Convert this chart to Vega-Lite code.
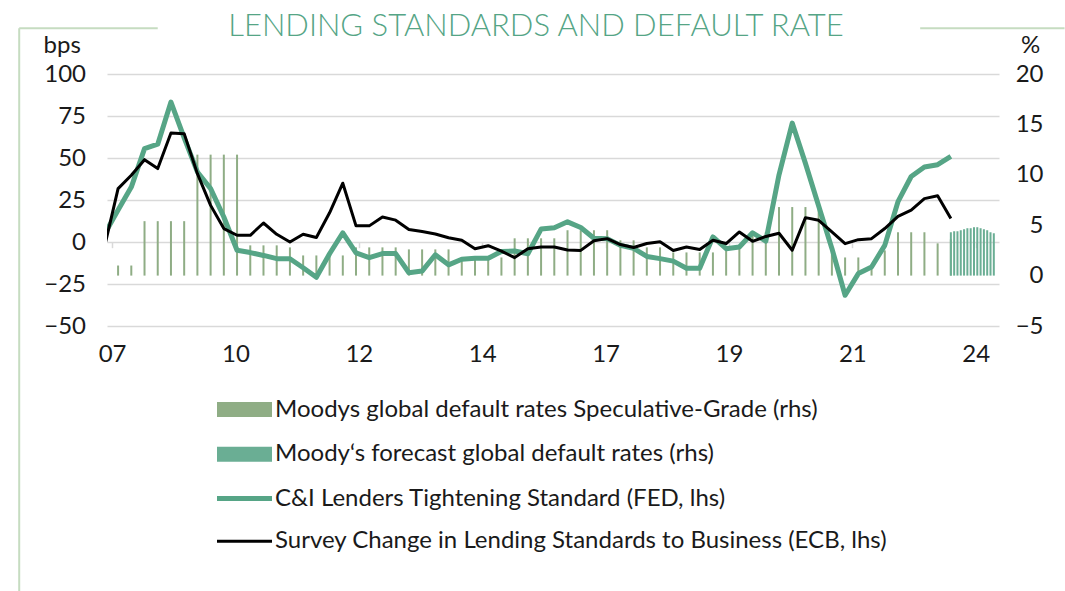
{
  "$schema": "https://vega.github.io/schema/vega-lite/v6.json",
  "width": 892,
  "height": 252,
  "autosize": {"type": "none"},
  "padding": {"left": 107, "top": 74, "right": 66, "bottom": 265},
  "background": "white",
  "config": {"font": "Lato", "view": {"stroke": null}},
  "title": {"text": "LENDING STANDARDS AND DEFAULT RATE", "font": "Lato", "fontWeight": 300, "fontSize": 31, "color": "#55a586", "anchor": "middle", "frame": "group", "offset": -40, "dx": -17, "baseline": "alphabetic"},
  "datasets": {
    "lines": [
      {"t":2007.25,"fed":5,"ecb":-2},
      {"t":2007.5,"fed":19,"ecb":31.8},
      {"t":2007.75,"fed":32.7,"ecb":39.7},
      {"t":2008,"fed":55.6,"ecb":49},
      {"t":2008.25,"fed":58.2,"ecb":43.7},
      {"t":2008.5,"fed":83.3,"ecb":64.9},
      {"t":2008.75,"fed":62,"ecb":64.5},
      {"t":2009,"fed":41.7,"ecb":40.7},
      {"t":2009.25,"fed":31.8,"ecb":21.8},
      {"t":2009.5,"fed":14.9,"ecb":8},
      {"t":2009.75,"fed":-4.9,"ecb":4},
      {"t":2010,"fed":-6.3,"ecb":4},
      {"t":2010.25,"fed":-8,"ecb":11.3},
      {"t":2010.5,"fed":-9.9,"ecb":4.6},
      {"t":2010.75,"fed":-10,"ecb":0},
      {"t":2011,"fed":-15.3,"ecb":4.6},
      {"t":2011.25,"fed":-21,"ecb":2.7},
      {"t":2011.5,"fed":-7,"ecb":17.4},
      {"t":2011.75,"fed":5.5,"ecb":35},
      {"t":2012,"fed":-6.5,"ecb":9.6},
      {"t":2012.25,"fed":-9.3,"ecb":9.6},
      {"t":2012.5,"fed":-6.9,"ecb":14.9},
      {"t":2012.75,"fed":-6.9,"ecb":13},
      {"t":2013,"fed":-18.3,"ecb":7.5},
      {"t":2013.25,"fed":-17.3,"ecb":6.2},
      {"t":2013.5,"fed":-7.6,"ecb":4.8},
      {"t":2013.75,"fed":-13.6,"ecb":2.5},
      {"t":2014,"fed":-10.3,"ecb":1},
      {"t":2014.25,"fed":-9.7,"ecb":-4},
      {"t":2014.5,"fed":-9.7,"ecb":-2.2},
      {"t":2014.75,"fed":-5.6,"ecb":-5.4},
      {"t":2015,"fed":-5.4,"ecb":-9.3},
      {"t":2015.25,"fed":-7,"ecb":-4},
      {"t":2015.5,"fed":7.7,"ecb":-3},
      {"t":2015.75,"fed":8.5,"ecb":-3},
      {"t":2016,"fed":12,"ecb":-4.8},
      {"t":2016.25,"fed":8.6,"ecb":-5},
      {"t":2016.5,"fed":2.2,"ecb":0.7},
      {"t":2016.75,"fed":2,"ecb":2},
      {"t":2017,"fed":-2,"ecb":-1.5},
      {"t":2017.25,"fed":-3.8,"ecb":-3.3},
      {"t":2017.5,"fed":-8.6,"ecb":-0.9},
      {"t":2017.75,"fed":-9.9,"ecb":0.1},
      {"t":2018,"fed":-11.4,"ecb":-5.1},
      {"t":2018.25,"fed":-15.6,"ecb":-3},
      {"t":2018.5,"fed":-15.6,"ecb":-4.5},
      {"t":2018.75,"fed":3,"ecb":1},
      {"t":2019,"fed":-4,"ecb":-0.9},
      {"t":2019.25,"fed":-3,"ecb":6},
      {"t":2019.5,"fed":5.5,"ecb":0.4},
      {"t":2019.75,"fed":0.5,"ecb":3.3},
      {"t":2020,"fed":40,"ecb":5.2},
      {"t":2020.25,"fed":70.8,"ecb":-4.9},
      {"t":2020.5,"fed":46.8,"ecb":14.5},
      {"t":2020.75,"fed":21.4,"ecb":12.9},
      {"t":2021,"fed":-3.8,"ecb":6},
      {"t":2021.25,"fed":-31.7,"ecb":-1},
      {"t":2021.5,"fed":-18.8,"ecb":1.4},
      {"t":2021.75,"fed":-14.9,"ecb":2},
      {"t":2022,"fed":-2,"ecb":8},
      {"t":2022.25,"fed":24,"ecb":15.3},
      {"t":2022.5,"fed":39,"ecb":19},
      {"t":2022.75,"fed":44.6,"ecb":25.8},
      {"t":2023,"fed":46,"ecb":27.5},
      {"t":2023.25,"fed":51,"ecb":14}
    ],
    "bars": [
      {"t":2007.5,"r":1,"k":"hist"},{"t":2007.75,"r":1,"k":"hist"},
      {"t":2008,"r":5.4,"k":"hist"},{"t":2008.25,"r":5.4,"k":"hist"},{"t":2008.5,"r":5.4,"k":"hist"},{"t":2008.75,"r":5.4,"k":"hist"},
      {"t":2009,"r":12,"k":"hist"},{"t":2009.25,"r":12,"k":"hist"},{"t":2009.5,"r":12,"k":"hist"},{"t":2009.75,"r":12,"k":"hist"},
      {"t":2010,"r":3,"k":"hist"},{"t":2010.25,"r":3,"k":"hist"},{"t":2010.5,"r":3,"k":"hist"},{"t":2010.75,"r":2.8,"k":"hist"},
      {"t":2011,"r":2,"k":"hist"},{"t":2011.25,"r":2,"k":"hist"},{"t":2011.5,"r":2,"k":"hist"},{"t":2011.75,"r":2,"k":"hist"},
      {"t":2012,"r":2.8,"k":"hist"},{"t":2012.25,"r":2.8,"k":"hist"},{"t":2012.5,"r":2.8,"k":"hist"},{"t":2012.75,"r":2.8,"k":"hist"},
      {"t":2013,"r":2.6,"k":"hist"},{"t":2013.25,"r":2.6,"k":"hist"},{"t":2013.5,"r":2.6,"k":"hist"},{"t":2013.75,"r":2.6,"k":"hist"},
      {"t":2014,"r":1.8,"k":"hist"},{"t":2014.25,"r":1.8,"k":"hist"},{"t":2014.5,"r":1.8,"k":"hist"},{"t":2014.75,"r":1.8,"k":"hist"},
      {"t":2015,"r":3.7,"k":"hist"},{"t":2015.25,"r":3.7,"k":"hist"},{"t":2015.5,"r":3.7,"k":"hist"},{"t":2015.75,"r":3.7,"k":"hist"},
      {"t":2016,"r":4.5,"k":"hist"},{"t":2016.25,"r":4.5,"k":"hist"},{"t":2016.5,"r":4.5,"k":"hist"},{"t":2016.75,"r":4.5,"k":"hist"},
      {"t":2017,"r":3.5,"k":"hist"},{"t":2017.25,"r":3.5,"k":"hist"},{"t":2017.5,"r":2.8,"k":"hist"},{"t":2017.75,"r":2.8,"k":"hist"},
      {"t":2018,"r":2.3,"k":"hist"},{"t":2018.25,"r":2.3,"k":"hist"},{"t":2018.5,"r":2.3,"k":"hist"},{"t":2018.75,"r":2.3,"k":"hist"},
      {"t":2019,"r":2.8,"k":"hist"},{"t":2019.25,"r":2.8,"k":"hist"},{"t":2019.5,"r":4.3,"k":"hist"},{"t":2019.75,"r":4.3,"k":"hist"},
      {"t":2020,"r":6.8,"k":"hist"},{"t":2020.25,"r":6.8,"k":"hist"},{"t":2020.5,"r":6.8,"k":"hist"},{"t":2020.75,"r":6.8,"k":"hist"},
      {"t":2021,"r":2.5,"k":"hist"},{"t":2021.25,"r":1.8,"k":"hist"},{"t":2021.5,"r":1.8,"k":"hist"},{"t":2021.75,"r":0.8,"k":"hist"},
      {"t":2022,"r":2.5,"k":"hist"},{"t":2022.25,"r":4.3,"k":"hist"},{"t":2022.5,"r":4.3,"k":"hist"},{"t":2022.75,"r":4.3,"k":"hist"},
      {"t":2023,"r":3.2,"k":"hist"},{"t":2023.25,"r":3.6,"k":"hist"},
      {"t":2023.25,"r":4.3,"k":"fcst"},{"t":2023.3125,"r":4.4,"k":"fcst"},{"t":2023.375,"r":4.4,"k":"fcst"},{"t":2023.4375,"r":4.5,"k":"fcst"},
      {"t":2023.5,"r":4.6,"k":"fcst"},{"t":2023.5625,"r":4.7,"k":"fcst"},{"t":2023.625,"r":4.7,"k":"fcst"},{"t":2023.6875,"r":4.8,"k":"fcst"},
      {"t":2023.75,"r":4.8,"k":"fcst"},{"t":2023.8125,"r":4.7,"k":"fcst"},{"t":2023.875,"r":4.6,"k":"fcst"},{"t":2023.9375,"r":4.5,"k":"fcst"},
      {"t":2024,"r":4.3,"k":"fcst"},{"t":2024.0625,"r":4.2,"k":"fcst"}
    ]
  },
  "layer": [
    {
      "data": {"name": "bars"},
      "mark": {"type": "bar", "width": 2, "clip": true},
      "encoding": {
        "x": {"field": "t", "type": "quantitative", "scale": {"domain": [2007.385, 2024.066], "nice": false, "zero": false},
          "axis": {"values": [2007.387, 2009.72, 2012.053, 2014.387, 2016.72, 2019.053, 2021.387, 2023.72],
            "labelExpr": "(round(datum.value) < 2010 ? '0' : '') + (round(datum.value) - 2000)",
            "offset": -84.3, "domain": false, "ticks": true, "tickColor": "#d9d9d9", "tickWidth": 1.5, "tickSize": 6,
            "labelPadding": 95, "labelFontSize": 24, "labelColor": "#1a1a1a", "labelFlush": false, "labelOverlap": false,
            "grid": false, "title": null}},
        "y": {"field": "r", "type": "quantitative", "stack": null, "scale": {"domain": [-5, 20], "nice": false, "zero": false},
          "axis": {"orient": "right", "values": [-5, 0, 5, 10, 15, 20], "grid": false, "domain": false, "ticks": false,
            "labelFontSize": 24, "labelColor": "#1a1a1a", "labelAlign": "right", "labelPadding": 44,
            "title": "%", "titleAngle": 0, "titleX": 31, "titleY": -22, "titleAlign": "center", "titleBaseline": "alphabetic",
            "titleFontSize": 24, "titleFontWeight": "normal", "titleColor": "#1a1a1a"}},
        "fill": {"field": "k", "type": "nominal", "scale": {"domain": ["hist", "fcst"], "range": ["#8fad85", "#6aae94"]},
          "legend": {"orient": "none", "legendX": 110, "legendY": 308, "title": null, "padding": 0,
            "symbolType": "M-1,-0.27H1V0.27H-1Z", "symbolSize": 3025, "symbolStrokeWidth": 0,
            "labelFontSize": 24, "labelColor": "#1a1a1a", "labelOffset": 3, "rowPadding": 4.7, "labelLimit": 900,
            "labelExpr": "datum.value == 'hist' ? 'Moodys global default rates Speculative-Grade (rhs)' : 'Moody‘s forecast global default rates (rhs)'"}}
      }
    },
    {
      "layer": [
        {
          "data": {"name": "lines"},
          "transform": [{"fold": ["fed"], "as": ["s", "v"]}],
          "mark": {"type": "line", "strokeWidth": 5, "clip": true, "strokeJoin": "round"},
          "encoding": {
            "x": {"field": "t", "type": "quantitative"},
            "y": {"field": "v", "type": "quantitative", "scale": {"domain": [-50, 100], "nice": false, "zero": false},
              "axis": {"orient": "left", "values": [-50, -25, 0, 25, 50, 75, 100], "grid": true, "gridColor": "#d9d9d9", "gridWidth": 1.5,
                "domain": false, "ticks": false, "labelFontSize": 24, "labelColor": "#1a1a1a", "labelPadding": 21.5,
                "title": "bps", "titleAngle": 0, "titleX": -64, "titleY": -22, "titleAlign": "left", "titleBaseline": "alphabetic",
                "titleFontSize": 24, "titleFontWeight": "normal", "titleColor": "#1a1a1a"}},
            "stroke": {"field": "s", "type": "nominal", "scale": {"domain": ["fed", "ecb"], "range": ["#56a586", "#000000"]},
              "legend": {"orient": "none", "legendX": 110, "legendY": 397, "title": null, "padding": 0,
                "symbolType": "M-1,-0.09H1V0.09H-1Z", "symbolSize": 3025,
                "labelFontSize": 24, "labelColor": "#1a1a1a", "labelOffset": 3, "rowPadding": 2.7, "labelLimit": 900,
                "labelExpr": "datum.value == 'fed' ? 'C&I Lenders Tightening Standard (FED, lhs)' : 'Survey Change in Lending Standards to Business (ECB, lhs)'",
                "encode": {"symbols": {"update": {
                  "shape": {"signal": "datum.value == 'fed' ? 'M-1,-0.09H1V0.09H-1Z' : 'M-1,-0.055H1V0.055H-1Z'"},
                  "fill": {"signal": "datum.value == 'fed' ? '#56a586' : '#000000'"},
                  "stroke": {"value": "transparent"}, "strokeWidth": {"value": 0}, "opacity": {"value": 1}}}}}}
          }
        },
        {
          "data": {"name": "lines"},
          "transform": [{"fold": ["ecb"], "as": ["s", "v"]}],
          "mark": {"type": "line", "strokeWidth": 3, "clip": true, "strokeJoin": "round"},
          "encoding": {
            "x": {"field": "t", "type": "quantitative"},
            "y": {"field": "v", "type": "quantitative"},
            "stroke": {"field": "s", "type": "nominal"}
          }
        },
        {
          "data": {"values": [{}]},
          "mark": {"type": "rule", "color": "#c6dcc1", "strokeWidth": 2},
          "encoding": {
            "x": {"datum": 2005.63, "type": "quantitative"},
            "y": {"datum": 127.2, "type": "quantitative"},
            "y2": {"datum": -210}
          }
        },
        {
          "data": {"values": [{}]},
          "mark": {"type": "rule", "color": "#c6dcc1", "strokeWidth": 2},
          "encoding": {
            "x": {"datum": 2005.63, "type": "quantitative"},
            "x2": {"datum": 2008.25},
            "y": {"datum": 127.2, "type": "quantitative"}
          }
        },
        {
          "data": {"values": [{}]},
          "mark": {"type": "rule", "color": "#c6dcc1", "strokeWidth": 2},
          "encoding": {
            "x": {"datum": 2022.67, "type": "quantitative"},
            "x2": {"datum": 2025.4},
            "y": {"datum": 127.2, "type": "quantitative"}
          }
        }
      ]
    }
  ],
  "resolve": {"scale": {"y": "independent"}}
}
